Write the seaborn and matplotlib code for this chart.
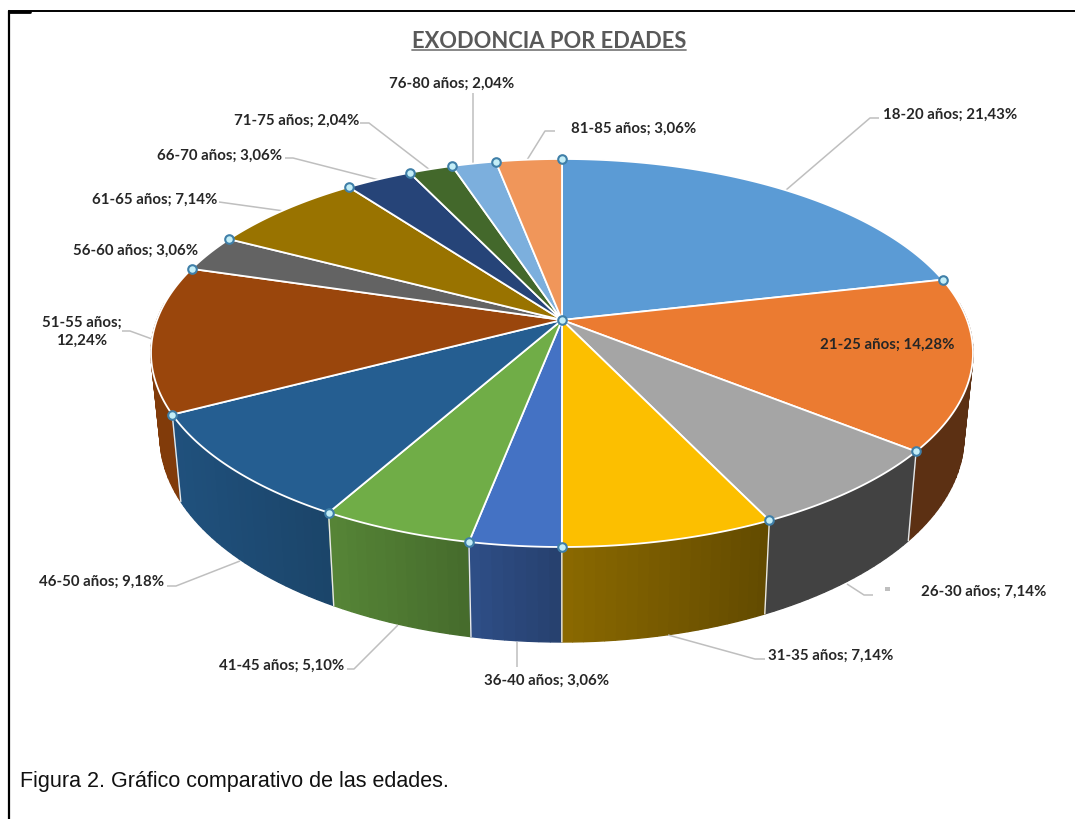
import numpy as np
import pandas as pd
import matplotlib
matplotlib.use("Agg")
import matplotlib.pyplot as plt
import seaborn as sns

# ---- data ----
age_groups = ["18-20 años", "21-25 años", "26-30 años", "31-35 años", "36-40 años",
              "41-45 años", "46-50 años", "51-55 años", "56-60 años", "61-65 años",
              "66-70 años", "71-75 años", "76-80 años", "81-85 años"]
percent_values = [21.43, 14.28, 7.14, 7.14, 3.06, 5.10, 9.18, 12.24, 3.06, 7.14,
                  3.06, 2.04, 2.04, 3.06]
percent_labels = ["21,43%", "14,28%", "7,14%", "7,14%", "3,06%", "5,10%", "9,18%",
                  "12,24%", "3,06%", "7,14%", "3,06%", "2,04%", "2,04%", "3,06%"]
top_colors = ["#5B9BD5", "#EB7B31", "#A5A5A5", "#FCBF00", "#4472C4", "#70AD47", "#255E91",
              "#9A460C", "#636363", "#997300", "#264478", "#43682B", "#7CAFDD", "#F0965A"]
title_text = "EXODONCIA POR EDADES"
caption_text = "Figura 2. Gráfico comparativo de las edades."

# ---- styles / layout ----
side_shade_left = [.5, .39, .40, .55, .69, .77, .86, .84, .6, .6, .6, .6, .6, .6]
side_shade_right = [.5, .39, .40, .39, .56, .62, .73, .84, .6, .6, .6, .6, .6, .6]

CX, CY = 562.0, 321.0      # pie apex on the picture
A, B, K = 405.0, 188.4, 0.170  # perspective disc
BOT_SX, BOT_SY, BOT_CY = 0.978, 1.06, 402.4  # lower rim relative to the upper disc


def project(theta):
    u, v = np.sin(theta), np.cos(theta)
    d = 1 + K * v
    return CX + A * u / d, CY - B * v / d


def project_bottom(theta):
    x, y = project(theta)
    return CX + BOT_SX * (x - CX), BOT_CY + BOT_SY * (y - CY)


sns.set_theme(style="white")
palette = sns.color_palette(top_colors)

fig = plt.figure(figsize=(10.75, 8.2), dpi=100, facecolor="white")
ax = fig.add_axes([0, 0, 1, 1])
ax.set_xlim(0, 1075)
ax.set_ylim(820, 0)
ax.axis("off")

values = np.array(percent_values)
total = values.sum()
edges = np.concatenate([[0], np.cumsum(values)]) / total * 2 * np.pi

# side wall, from back to front (the part behind the top face is never seen)
pieces = []
for i, colour in enumerate(palette):
    ts = np.linspace(edges[i], edges[i + 1], max(6, int(values[i] * 3)))
    xs, _ = project(ts)
    xl, xr = xs.min(), xs.max()
    for a, b in zip(ts[:-1], ts[1:]):
        if np.cos(0.5 * (a + b)) > 0.1:
            continue
        xa, ya = project(np.array([a, b]))
        xb, yb = project_bottom(np.array([a, b]))
        f = (0.5 * (xa[0] + xa[1]) - xl) / max(xr - xl, 1)
        shade = side_shade_left[i] + (side_shade_right[i] - side_shade_left[i]) * f
        pieces.append((np.cos(0.5 * (a + b)),
                       [xa[0], xa[1], xb[1], xb[0]], [ya[0], ya[1], yb[1], yb[0]],
                       tuple(np.array(colour) * shade)))
for _, px, py, c in sorted(pieces, key=lambda p: -p[0]):
    ax.fill(px, py, facecolor=c, edgecolor=c, lw=1.0, zorder=2, joinstyle="bevel")

# white separators on the visible wall
for e in edges[1:]:
    if np.cos(e) < 0.25:
        x0, y0 = project(e)
        x1, y1 = project_bottom(e)
        if 0.25 * np.pi < e < 1.6 * np.pi:
            ax.plot([x0, x1], [y0, y1], color="#E8E8E8", lw=1.0, zorder=3)

# top faces
for i, colour in enumerate(palette):
    ts = np.linspace(edges[i], edges[i + 1], 120)
    xs, ys = project(ts)
    ax.fill(np.r_[CX, xs], np.r_[CY, ys], facecolor=colour, edgecolor="white",
            lw=1.3, zorder=4, joinstyle="round")

# leader lines
leaders = [
    [(786, 191), (870, 119), (879, 119)],
    [(527, 161), (545, 132), (555, 132)],
    [(473, 94), (473, 166)],
    [(360, 124), (369, 124), (430, 171)],
    [(285, 159), (293, 159), (379, 181)],
    [(219, 203), (284, 212)],
    [(122, 332), (130, 332), (152, 340)],
    [(167, 587), (176, 587), (240, 562)],
    [(347, 670), (354, 670), (398, 626)],
    [(517, 643), (517, 668)],
    [(668, 636), (755, 660), (765, 660)],
    [(847, 585), (864, 596), (873, 596)],
]
for line in leaders:
    lx, ly = zip(*line)
    ax.plot(lx, ly, color="#BFBFBF", lw=1.1, zorder=1 if ly[0] > 700 else 3.5,
            solid_capstyle="butt")
ax.fill([885, 890, 890, 885], [588, 588, 592, 592], color="#BFBFBF", lw=0, zorder=3)

# data-point handles
bx, by = project(edges[:-1])
handles = pd.DataFrame({"x": np.r_[bx, CX], "y": np.r_[by, CY]})
sns.scatterplot(data=handles, x="x", y="y", ax=ax, s=38, color="#C4EEF7",
                edgecolor="#3F7FA8", linewidth=1.5, zorder=6, legend=False)
ax.set_xlim(0, 1075)
ax.set_ylim(820, 0)
ax.axis("off")

# labels
label_font = dict(family="Lato", fontweight="bold", fontsize=10.85, color="#262626", zorder=7)
placement = [
    (883, 115, "left"), (955, 345, "right"), (921, 592, "left"), (768, 656, "left"),
    (547, 681, "center"), (344, 666, "right"), (164, 582, "right"), (82, 332, "center"),
    (198, 251, "right"), (217, 200, "right"), (282, 156, "right"), (359, 121, "right"),
    (452, 84, "center"), (571, 129, "left"),
]
for name, pct, (tx, ty, ha) in zip(age_groups, percent_labels, placement):
    sep = ";\n" if name.startswith("51") else "; "
    ax.text(tx, ty, f"{name}{sep}{pct}", ha=ha, va="center", linespacing=1.35, **label_font)

# title, caption, frame
ax.text(549, 41, title_text, ha="center", va="center", family="Lato", fontweight="bold",
        fontsize=15.75, color="#595959", zorder=7)
ax.plot([412, 686], [50.5, 50.5], color="#7F7F7F", lw=1.3, zorder=7)
ax.text(20, 782, caption_text, ha="left", va="center", family="Liberation Sans",
        fontsize=15.5, color="#111111", zorder=7)
ax.plot([9, 9], [12, 820], color="black", lw=1.6, zorder=8)
ax.plot([9, 1075], [12, 12], color="black", lw=1.4, zorder=8)
ax.plot([9, 30], [12.5, 12.5], color="black", lw=2.0, zorder=8)

fig.savefig("out.png", dpi=100, facecolor="white")
